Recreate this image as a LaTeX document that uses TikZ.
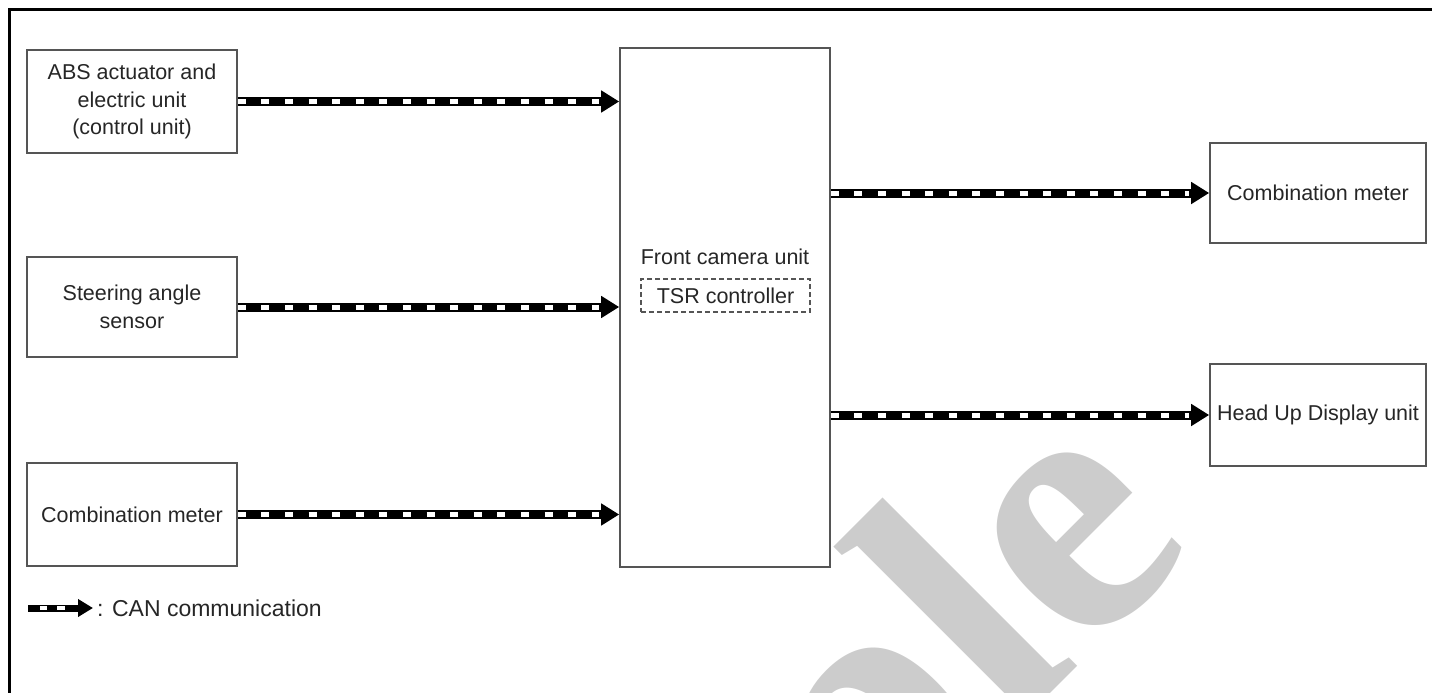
\documentclass[tikz,border=0pt]{standalone}
\usepackage{fontspec}
\setmainfont{Liberation Sans}
\newfontfamily\wmfont{Liberation Serif}
\usetikzlibrary{arrows.meta,calc}
\definecolor{txt}{HTML}{262626}
\definecolor{bord}{HTML}{555555}
\definecolor{wm}{HTML}{CCCCCC}
\tikzset{
  unitbox/.style={draw=bord, line width=1.6pt, inner sep=0pt, text=txt,
    font=\fontsize{21.5}{27.5}\selectfont, align=center},
  lbl/.style={inner sep=0pt, text=txt, font=\fontsize{21.5}{27.5}\selectfont},
  can/.style={line width=9pt, black, -{Triangle[length=18pt,width=21pt]},
    postaction={draw=white, line width=5pt, dash pattern=on 8pt off 15.6pt,
      arrows=-, shorten >=20pt}},
  wmark/.style={inner sep=0pt, text=wm, rotate=45, anchor=base east,
    font=\wmfont\bfseries\fontsize{370}{370}\selectfont}
}
\begin{document}
\begin{tikzpicture}[x=1pt,y=-1pt]
\useasboundingbox (0,0) rectangle (1432,693);
\begin{scope}
  \clip (0,0) rectangle (1432,693);
  \node[wmark] (wm) at (1199,545) {Sample};
\end{scope}
\draw[line width=3pt] (9,693) -- (9,10) -- (1432,10);

\node[unitbox, minimum width=210pt, minimum height=103pt] (abs) at (132,101.5)
  {ABS actuator and\\electric unit\\(control unit)};
\node[unitbox, minimum width=210pt, minimum height=100pt] (steer) at (132,307)
  {Steering angle\\sensor};
\node[unitbox, minimum width=210pt, minimum height=103pt] (cmA) at (132,514.5)
  {Combination meter};
\node[unitbox, minimum width=210pt, minimum height=519pt] (fcu) at (725,307.5) {};
\node[lbl] (fcut) at (725,257) {Front camera unit};
\node[lbl, draw=bord, line width=1.2pt, dash pattern=on 5pt off 3pt,
  minimum width=169pt, minimum height=33pt] (tsr) at (725.5,295.5) {TSR controller};
\node[unitbox, minimum width=216pt, minimum height=100pt] (cmB) at (1318,193)
  {Combination meter};
\node[unitbox, minimum width=216pt, minimum height=102pt] (hud) at (1318,415)
  {Head Up Display unit};

\draw[can] (abs.east) -- (abs.east -| fcu.west);
\draw[can] (steer.east) -- (steer.east -| fcu.west);
\draw[can] (cmA.east) -- (cmA.east -| fcu.west);
\draw[can] (fcu.east |- cmB.west) -- (cmB.west);
\draw[can] (fcu.east |- hud.west) -- (hud.west);

\node[lbl, anchor=west, font=\fontsize{23}{27}\selectfont] (leg) at (97,608) {: CAN communication};
\coordinate (ls) at (28,608);
\draw[line width=7pt, -{Triangle[length=15pt,width=17pt]}, shorten >=4pt] (ls) -- (leg.west);
\draw[white, line width=3.5pt] (40,608) -- (47,608) (57,608) -- (65,608);
\end{tikzpicture}
\end{document}
